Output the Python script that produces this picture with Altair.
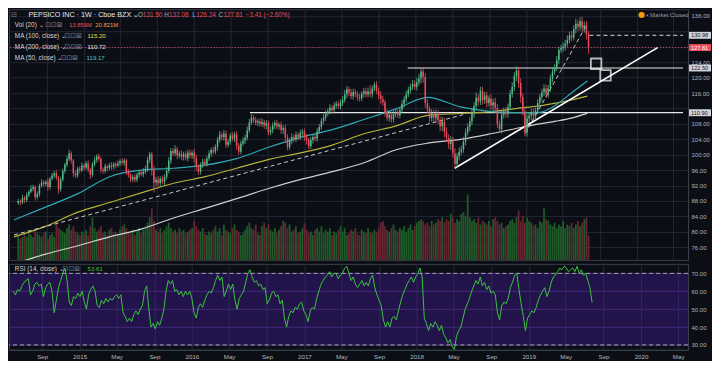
import altair as alt
import pandas as pd

# ----------------------------- data -----------------------------
last_week = "2019-07-26"
first_open = 87.5

closes = [
    88.0, 87.6, 88.8, 88.3, 89.5, 90.4, 91.2, 91.6, 89.0, 89.8,
    92.0, 92.8, 92.4, 93.0, 91.6, 93.8, 94.6, 95.2, 94.0, 91.0,
    93.5, 95.8, 97.4, 98.9, 100.3, 98.5, 95.2, 94.6, 96.4, 96.0,
    97.2, 96.7, 97.8, 96.2, 94.8, 97.5, 98.6, 99.6, 98.9, 96.2,
    95.8, 97.0, 96.5, 97.3, 96.8, 97.6, 97.2, 97.8, 98.3, 97.9, 98.5,
    95.6, 94.8, 93.6, 94.2, 93.5, 94.8, 95.4, 94.9, 95.6, 96.2,
    98.7, 100.2, 96.0, 92.8, 93.5, 92.6, 93.8, 93.0, 94.2, 95.8,
    98.5, 101.0, 100.4, 101.5, 99.8, 100.3, 99.4, 100.2, 99.1, 100.6,
    99.8, 100.5, 99.2, 96.8, 95.6, 97.4, 98.2, 97.6, 99.0, 100.3,
    101.2, 100.8, 102.0, 103.8, 105.2, 104.6, 105.5, 102.6, 103.4, 105.0,
    104.2, 105.3, 102.4, 100.8, 102.9, 103.6, 104.4, 106.3, 108.4, 109.6,
    109.0, 108.3, 108.7, 108.0, 108.5, 107.6, 108.2, 105.8, 106.4, 107.6,
    108.2, 107.3, 107.8, 106.4, 106.9, 104.5, 102.0, 103.6, 104.6, 104.0,
    105.2, 104.6, 105.6, 106.0, 104.5, 103.8, 102.2, 103.8, 104.6, 104.2,
    106.0, 107.2, 108.8, 109.6, 110.7, 111.3, 112.2, 111.6, 112.8, 113.2,
    112.6, 113.5, 114.2, 115.6, 117.0, 116.2, 115.2, 116.3, 115.7, 115.0, 114.6,
    115.8, 116.5, 115.6, 116.4, 115.8, 117.2, 118.2, 116.6, 115.4, 114.4,
    113.6, 111.0, 109.6, 110.4, 109.2, 110.6, 111.0, 110.2, 111.6, 113.2,
    114.4, 115.6, 116.8, 117.6, 118.4, 117.6, 118.8, 119.8, 121.6, 120.2,
    113.4, 111.8, 109.5, 110.8, 109.6, 110.6, 109.0, 107.4, 108.6, 106.0,
    104.4, 102.8, 103.6, 100.4, 97.6, 99.6, 100.8, 101.4, 103.4, 105.8,
    107.2, 108.6, 110.8, 112.6, 114.8, 113.8, 116.6, 114.2, 115.4, 113.4,
    114.6, 112.8, 113.6, 112.2, 108.0, 106.6, 110.4, 111.2, 110.6, 112.4,
    115.8, 117.6, 120.4, 121.8, 118.6, 115.0, 111.2, 105.8, 109.4, 110.2,
    111.0, 110.0, 111.4, 113.4, 115.0, 116.2, 117.2, 115.6, 117.2, 119.8,
    121.6, 122.6, 124.6, 127.2, 127.6, 128.0, 128.8, 129.8, 131.0, 130.4,
    132.6, 134.0, 133.2, 134.6, 132.8, 133.6, 131.22, 127.81,
]

up_wick = [
    .6, .4, .8, .5, .7, .5, .9, .6, .4, .7,
    .5, .8, .6, .4, .9, .5, .7, .6, .8, .5,
    .7, .6, .5, .8, 1.0, .6, .4, .7, .5, .6,
    .8, .5, .6, .7, .4, .6, .9, .5, .7, .6,
    .5, .7, .4, .6, .8, .5, .6, .7, .5, .8,
    .6, .5, .7, .4, .6, .8, .5, .6, .7, .9,
    1.0, .8, .6, .5, 1.2, .7, .9, .6, .8, .7,
    1.1, .9, .7, .8, 1.0, .6, .7, .9, .6, .8,
    .7, .8, .6, 1.0, .9, .7, .6, .8, .7, .6,
    .8, .6, .9, .7, .8, 1.0, .6, .9, .8, .7,
    .6, .9, .7, .8, .6, .7, .9, .8, 1.0, .9,
    1.1, .7, .8, .6, .7, .9, .6, .8, .7, .9,
    .8, .7, .9, .6, .8, .7, 1.0, .8, .7, .9,
    .7, .8, .6, .9, .7, .8, .9, .6, .8, .7,
    .6, .9, .8, .7, .9, .8, .7, .9, .6, .8,
    .7, .8, .9, 1.0, 1.2, .8, .7, .9, .8, .7,
    .8, .9, .7, .8, .9, 1.0, 1.6, .8, .7, .9,
    .8, 1.0, .9, .7, .8, .9, .7, .8, .9, .8,
    .7, .9, .8, 1.0, .9, .8, 1.0, .9, 1.1, 1.2,
    1.0, 1.2, .9, 1.1, .8, 1.0, .9, 1.1, 1.0, .9,
    1.2, 1.0, 1.1, .9, 1.2, 1.0, 1.3, .9, 1.1, 1.0,
    1.2, 1.0, .9, 1.1, 1.3, 1.0, 1.4, .9, 1.0, 1.1,
    .9, 1.0, .8, 1.1, .9, 1.2, 1.0, .8, .9, 1.0,
    1.1, .9, 1.0, 1.2, 1.0, 1.1, .9, 1.2, 1.0, .9,
    1.0, .8, .9, 1.1, .9, 1.0, .8, .9, 1.1, 1.0,
    .9, 1.0, 1.1, .9, 1.0, .8, .9, 1.1, 1.0, 1.2,
    .9, 1.1, 1.0, 1.3, .9, 1.0, 1.2, .9, 1.1, .86,
]

dn_wick = [
    .5, .7, .4, .8, .6, .5, .4, .7, .9, .6,
    .7, .5, .8, .6, 1.0, .6, .5, .7, .6, 1.1,
    .6, .5, .7, .6, .5, .8, 1.0, .7, .6, .8,
    .5, .7, .6, .8, 1.1, .6, .5, .7, .6, .9,
    .7, .6, .8, .5, .7, .6, .8, .5, .7, .6,
    .8, .9, .7, .8, .6, .7, .6, .8, .5, .7,
    .6, .7, .9, 1.4, 2.6, 1.0, .8, .9, .7, .8,
    .7, .6, .9, .7, .8, 1.0, .7, .8, .9, .6,
    .8, .7, .9, 1.2, 1.1, .8, .7, .9, .6, .7,
    .6, .8, .7, .6, .9, .7, .8, 1.0, .8, .7,
    .8, .7, .9, 1.1, .8, .7, .6, .8, .7, .6,
    .7, .8, .6, .9, .7, .8, .9, 1.0, .8, .7,
    .8, .9, .7, .8, 1.0, 1.1, 1.3, .8, .7, .9,
    .8, .7, .9, .8, 1.0, .9, 1.2, .8, .7, .9,
    .7, .8, .6, .7, .8, .9, .7, .8, .9, .7,
    .8, .7, .9, .8, .7, .9, 1.0, .8, .9, .8,
    .9, .8, .7, .9, .8, .7, .9, 1.0, .8, .9,
    1.0, 1.2, .9, 1.1, .8, 1.0, .9, .8, .9, .7,
    .8, .7, .9, .8, .7, .9, .8, .7, .9, .8,
    1.3, 1.5, 1.2, 1.0, 1.1, .9, 1.2, 1.0, 1.1, 1.3,
    1.2, 1.4, 1.1, 1.3, 1.6, 1.2, 1.0, .9, 1.1, .8,
    .9, 1.0, .8, 1.1, .9, 1.2, 1.0, 1.1, .9, 1.2,
    1.0, 1.1, .9, 1.2, 1.4, 1.3, 1.0, .9, 1.1, 1.0,
    .9, 1.0, .8, 1.0, 1.1, 1.3, 1.2, 1.5, 1.1, 1.0,
    1.1, 1.0, 1.2, .9, 1.0, .8, .9, 1.1, 1.0, .9,
    .8, .9, 1.0, .8, .9, 1.1, .8, .9, 1.0, .8,
    .9, 1.0, .8, 1.1, 1.2, 1.0, .9, 1.1, 1.3, 1.57,
]

volume_m = [
    14, 12, 13, 15, 13, 16, 14, 13, 17, 15,
    14, 13, 15, 16, 12, 14, 15, 13, 22, 18,
    17, 16, 15, 18, 20, 17, 19, 16, 15, 14,
    16, 15, 17, 14, 19, 24, 18, 16, 17, 19,
    15, 16, 14, 17, 18, 15, 16, 14, 17, 19,
    20, 18, 16, 15, 17, 14, 16, 18, 15, 17,
    18, 21, 24, 29, 22, 17, 16, 18, 15, 17,
    19, 21, 18, 16, 17, 15, 18, 16, 17, 15,
    16, 17, 18, 22, 19, 17, 16, 18, 15, 14,
    16, 15, 17, 19, 16, 18, 14, 20, 17, 16,
    15, 18, 20, 17, 16, 14, 15, 17, 19, 21,
    18, 17, 20, 15, 14, 19, 21, 18, 20, 17,
    16, 18, 15, 17, 19, 22, 21, 18, 20, 16,
    17, 19, 15, 16, 18, 21, 17, 15, 16, 14,
    17, 18, 16, 19, 15, 17, 16, 18, 14, 16,
    15, 17, 19, 16, 18, 14, 15, 17, 16, 18,
    15, 14, 17, 16, 15, 18, 16, 15, 17, 16,
    18, 21, 22, 19, 17, 16, 18, 20, 17, 16,
    18, 17, 19, 16, 18, 20, 17, 19, 21, 22,
    23, 22, 20, 21, 19, 22, 20, 21, 23, 22,
    24, 21, 23, 22, 26, 24, 21, 23, 22, 26,
    27, 25, 37, 24, 22, 23, 21, 24, 20, 22,
    21, 20, 22, 19, 23, 24, 22, 20, 21, 18,
    19, 20, 22, 23, 21, 24, 28, 22, 25, 21,
    24, 22, 21, 19, 20, 18, 22, 21, 29, 23,
    22, 20, 19, 21, 18, 20, 19, 22, 18, 20,
    19, 21, 18, 20, 22, 19, 21, 23, 24, 13.86,
]

rsi_values = [
    60, 58, 61, 60, 63, 65, 66, 67, 58, 60,
    64, 65, 63, 64, 57, 62, 64, 65, 60, 48,
    55, 62, 66, 70, 73, 66, 54, 52, 57, 56,
    59, 57, 60, 54, 50, 58, 61, 63, 60, 52,
    51, 55, 53, 56, 54, 56, 55, 57, 58, 56,
    58, 48, 46, 43, 45, 43, 47, 49, 47, 50,
    52, 60, 63, 50, 40, 42, 39, 43, 41, 45,
    50, 60, 66, 64, 66, 60, 61, 58, 60, 57,
    60, 58, 60, 56, 48, 45, 51, 53, 51, 55,
    58, 60, 59, 62, 66, 69, 66, 68, 57, 60,
    64, 61, 64, 55, 50, 56, 58, 60, 65, 70,
    72, 68, 65, 66, 63, 64, 61, 62, 53, 55,
    59, 60, 57, 58, 53, 55, 45, 40, 46, 49,
    48, 51, 50, 53, 54, 49, 47, 43, 49, 51,
    50, 56, 60, 64, 66, 68, 69, 71, 68, 70,
    70, 67, 69, 70, 73, 74, 70, 66, 68, 64,
    62, 64, 66, 63, 65, 63, 67, 69, 62, 58,
    55, 52, 44, 40, 43, 40, 45, 46, 44, 49,
    54, 58, 61, 64, 66, 68, 65, 68, 70, 73,
    68, 45, 42, 38, 42, 40, 43, 41, 38, 41,
    36, 34, 31, 33, 29, 27.5, 35, 38, 40, 45,
    50, 53, 56, 60, 63, 66, 64, 68, 63, 65,
    61, 63, 59, 60, 58, 48, 44, 52, 54, 53,
    56, 62, 65, 69, 70, 61, 53, 46, 38, 45,
    47, 49, 48, 51, 55, 58, 60, 62, 57, 60,
    65, 68, 69, 71, 73, 72, 74, 73, 71, 72,
    73, 71, 74, 70, 72, 69, 70, 66, 62, 53.61,
]

ma_dates = ["2014-05-16", "2014-08-28", "2014-12-13", "2015-03-28", "2015-07-10",
            "2015-10-25", "2016-02-06", "2016-05-20", "2016-09-05", "2016-12-18",
            "2017-04-01", "2017-07-17", "2017-10-29", "2018-02-10", "2018-05-29",
            "2018-09-10", "2018-12-23", "2019-02-15", "2019-04-09", "2019-05-30",
            "2019-07-22"]
ma50 = [83.1, 86.4, 89.9, 94.3, 96.0, 96.5, 97.3, 99.0, 102.0, 104.5, 106.5,
        109.2, 111.9, 114.9, 112.4, 111.2, 110.9, 111.0, 112.9, 116.0, 119.17]
ma100 = [78.7, 81.4, 85.1, 87.6, 90.1, 92.6, 94.3, 96.5, 98.8, 100.5, 102.5,
         105.5, 107.5, 110.2, 110.7, 111.2, 112.2, 112.7, 113.4, 114.2, 115.20]
ma200 = [71.7, 74.2, 76.4, 78.7, 80.7, 83.6, 86.1, 88.6, 91.3, 93.6, 95.6,
         98.0, 101.3, 103.0, 104.0, 105.5, 107.2, 108.0, 108.7, 109.5, 110.72]

level_prices = [122.50, 110.90]
level_starts = ["2017-12-06", "2016-07-03"]
prev_level = 130.98
prev_level_start = "2019-07-29"
last_price = 127.81

solid_trend = {"d1": "2018-05-10", "d2": "2020-03-10", "p1": 96.5, "p2": 127.8}
dashed_trends = {"d1": ["2014-05-16", "2018-12-29"], "d2": ["2018-06-07", "2019-07-22"],
                 "p1": [79.2, 105.5], "p2": [110.4, 134.0]}
marker_dates = ["2019-08-20", "2019-09-20"]
marker_prices = [123.6, 120.6]

price_ticks = list(range(76, 137, 4))
hidden_price_ticks = [132, 128, 112]
rsi_ticks = [30, 40, 50, 60, 70]

# ----------------------------- style -----------------------------
BG = "#0c0e15"
GRID = "#242733"
BORDER = "#3a3e4a"
AXC = "#b2b5be"
UP, DOWN = "#53b987", "#eb4d5c"
VUP, VDOWN = "#1f5a28", "#672533"
C50, C100, C200 = "#2fa7b3", "#b4b23a", "#cfcfcf"
RSI_C = "#3bc43f"
FONT = "Liberation Sans"
W, H1, H2 = 680, 251, 86
SX, SY, SY2 = W / 700, H1 / 262, H2 / 90


def ts(s):
    return int(pd.Timestamp(s, tz="UTC").value // 10**6)


def iso(s):
    return pd.Timestamp(s).strftime("%Y-%m-%dT00:00:00Z")


n = min(len(closes), len(up_wick), len(dn_wick), len(volume_m), len(rsi_values))
closes = closes[:n]
dates = pd.date_range(end=last_week, periods=n, freq="7D")
opens = [first_open] + closes[:-1]
df = pd.DataFrame({
    "date": [d.strftime("%Y-%m-%dT00:00:00Z") for d in dates],
    "open": opens,
    "close": closes,
    "high": [max(o, c) + u for o, c, u in zip(opens, closes, up_wick[:n])],
    "low": [min(o, c) - d for o, c, d in zip(opens, closes, dn_wick[:n])],
    "vol": volume_m[:n],
    "rsi": rsi_values[:n],
})

xdom = [ts("2014-05-16"), ts("2020-06-02")]
xvals = [ts(f"{y}-{m:02d}-01") for y in range(2014, 2021) for m in (1, 5, 9)
         if ts("2014-06-01") <= ts(f"{y}-{m:02d}-01") <= ts("2020-05-31")]
xs = alt.Scale(type="utc", domain=xdom)
ax_price_x = alt.Axis(values=xvals, grid=True, gridColor=GRID, labels=False, ticks=False,
                      domain=False, title=None)
ax_rsi_x = alt.Axis(values=xvals, grid=True, gridColor=GRID, ticks=False, domain=True,
                    domainColor=BORDER, title=None, labelFont=FONT, labelFontSize=6.2,
                    labelColor=AXC, labelPadding=4,
                    labelExpr="utcFormat(datum.value, '%m') == '01' ? utcFormat(datum.value, '%Y') : utcFormat(datum.value, '%b')")

hidden_expr = " || ".join(f"datum.value == {v}" for v in hidden_price_ticks)
ys = alt.Scale(domain=[72.72, 137.74], nice=False, zero=False)
ax_price_y = alt.Axis(orient="right", values=price_ticks, grid=True, gridColor=GRID,
                      ticks=False, domain=True, domainColor=BORDER, labelFont=FONT,
                      labelFontSize=6.0, labelColor=AXC, labelPadding=3, title=None,
                      labelExpr=f"({hidden_expr}) ? '' : format(datum.value, '.2f')")
rs = alt.Scale(domain=[27.3, 75.3], nice=False, zero=False)
ax_rsi_y = alt.Axis(orient="right", values=rsi_ticks, format=".2f", grid=True, gridColor="#3b3060",
                    ticks=False, domain=True, domainColor=BORDER, labelFont=FONT,
                    labelFontSize=6.0, labelColor=AXC, labelPadding=3, title=None)


def XP(field="date"):
    return alt.X(f"{field}:T", scale=xs, axis=ax_price_x)


def XR(field="date"):
    return alt.X(f"{field}:T", scale=xs, axis=ax_rsi_x)


def YP(field):
    return alt.Y(f"{field}:Q", scale=ys, axis=ax_price_y)


def YR(field):
    return alt.Y(f"{field}:Q", scale=rs, axis=ax_rsi_y)


up_cond = "datum.close >= datum.open"


def txt(text, x, y, color, size=6.4, weight="normal", font=FONT, align="left"):
    return alt.Chart(pd.DataFrame({"t": [text]})).mark_text(
        align=align, baseline="middle", fontSize=size, fontWeight=weight, color=color, font=font
    ).encode(text="t:N", x=alt.value(x), y=alt.value(y))


# ----------------------------- price pane -----------------------------
vol = alt.Chart(df).mark_bar(size=1.8).encode(
    x=XP(),
    y=alt.Y("vol:Q", scale=alt.Scale(domain=[0, 141.6], nice=False), axis=None),
    color=alt.condition(up_cond, alt.value(VUP), alt.value(VDOWN)),
)

lv_df = pd.DataFrame({"start": [iso(s) for s in level_starts], "end": iso("2020-06-02"), "p": level_prices})
levels = alt.Chart(lv_df).mark_rule(color="#e6e6e6", strokeWidth=1.2).encode(
    x=XP("start"), x2="end:T", y=YP("p"))
prev_df = pd.DataFrame({"start": [iso(prev_level_start)], "end": [iso("2020-06-02")], "p": [prev_level]})
prev_line = alt.Chart(prev_df).mark_rule(color="#d8d8d8", strokeWidth=1, strokeDash=[4, 3]).encode(
    x=XP("start"), x2="end:T", y=YP("p"))
last_line = alt.Chart(pd.DataFrame({"p": [last_price]})).mark_rule(
    color=DOWN, strokeWidth=1, strokeDash=[1, 2], opacity=0.9).encode(y=YP("p"))

ma_df = pd.DataFrame({"date": [iso(d) for d in ma_dates], "ma50": ma50, "ma100": ma100, "ma200": ma200})
ma_layers = [
    alt.Chart(ma_df).mark_line(color=c, strokeWidth=1.2, interpolate="monotone", clip=True).encode(
        x=XP(), y=YP(f))
    for f, c in (("ma200", C200), ("ma100", C100), ("ma50", C50))
]

dt_df = pd.DataFrame({"d1": [iso(d) for d in dashed_trends["d1"]], "d2": [iso(d) for d in dashed_trends["d2"]],
                      "p1": dashed_trends["p1"], "p2": dashed_trends["p2"]})
dashed = alt.Chart(dt_df).mark_rule(color="#c8c8c8", strokeWidth=1, strokeDash=[4, 3], clip=True).encode(
    x=XP("d1"), x2="d2:T", y=YP("p1"), y2="p2:Q")
st_df = pd.DataFrame({"d1": [iso(solid_trend["d1"])], "d2": [iso(solid_trend["d2"])],
                      "p1": [solid_trend["p1"]], "p2": [solid_trend["p2"]]})
solid = alt.Chart(st_df).mark_rule(color="#ffffff", strokeWidth=1.6).encode(
    x=XP("d1"), x2="d2:T", y=YP("p1"), y2="p2:Q")

wicks = alt.Chart(df).mark_rule(strokeWidth=0.8).encode(
    x=XP(), y=YP("low"), y2="high:Q",
    color=alt.condition(up_cond, alt.value(UP), alt.value(DOWN)))
bodies = alt.Chart(df).mark_bar(size=1.5).encode(
    x=XP(), y=YP("open"), y2="close:Q",
    color=alt.condition(up_cond, alt.value(UP), alt.value(DOWN)))

mk_df = pd.DataFrame({"date": [iso(d) for d in marker_dates], "p": marker_prices})
markers = alt.Chart(mk_df).mark_point(shape="square", filled=False, size=110, strokeWidth=1.8,
                                      color="#ffffff").encode(x=XP(), y=YP("p"))

box_prices = [prev_level, last_price, 122.50, 110.90]
box_df = pd.DataFrame({
    "p": box_prices,
    "lo": [p - 0.9 for p in box_prices],
    "hi": [p + 0.9 for p in box_prices],
    "label": [f"{p:.2f}" for p in box_prices],
    "bg": ["#d1d4dc", DOWN, "#d1d4dc", "#d1d4dc"],
    "fg": ["#131722", "#ffffff", "#131722", "#131722"],
})
box_rect = alt.Chart(box_df).mark_rect().encode(
    x=alt.value(W + 1), x2=alt.value(W + 23), y=YP("lo"), y2="hi:Q",
    color=alt.Color("bg:N", scale=None))
box_text = alt.Chart(box_df).mark_text(align="left", baseline="middle", fontSize=5.6, font=FONT).encode(
    x=alt.value(W + 3), y=YP("p"), text="label:N", color=alt.Color("fg:N", scale=None))

ICON = "#787b86"
LEG = "#d1d4dc"
texts = [
    txt("⊟", 2 * SX, 6 * SY, ICON, 7, font="DejaVu Sans"),
    txt("PEPSICO INC · 1W · Cboe BZX ⌄", 20 * SX, 6 * SY, "#e8e8e8", 7.2),
    txt("O", 133 * SX, 6 * SY, AXC), txt("131.50", 138 * SX, 6 * SY, DOWN),
    txt("H", 160 * SX, 6 * SY, AXC), txt("132.08", 165 * SX, 6 * SY, DOWN),
    txt("L", 189 * SX, 6 * SY, AXC), txt("126.24", 193 * SX, 6 * SY, DOWN),
    txt("C", 216 * SX, 6 * SY, AXC), txt("127.81", 221 * SX, 6 * SY, DOWN),
    txt("−3.41 (−2.60%)", 244 * SX, 6 * SY, DOWN),
    txt("Vol (20) ⌄", 6 * SX, 16 * SY, LEG), txt("⊡⊡⊠", 37 * SX, 16 * SY, ICON, 7, font="DejaVu Sans"),
    txt("13.859M", 62 * SX, 16 * SY, DOWN, 5.9), txt("20.821M", 89 * SX, 16 * SY, "#f0a050", 5.9),
    txt("MA (100, close) ⌄", 6 * SX, 28 * SY, LEG), txt("⊡⊡⊠", 57 * SX, 28 * SY, ICON, 7, font="DejaVu Sans"),
    txt("115.20", 81 * SX, 28 * SY, "#e2e04a", 6.1),
    txt("MA (200, close) ⌄", 6 * SX, 39 * SY, LEG), txt("⊡⊡⊠", 57 * SX, 39 * SY, ICON, 7, font="DejaVu Sans"),
    txt("110.72", 81 * SX, 39 * SY, "#e6e6e6", 6.1),
    txt("MA (50, close) ⌄", 6 * SX, 51 * SY, LEG), txt("⊡⊡⊠", 53 * SX, 51 * SY, ICON, 7, font="DejaVu Sans"),
    txt("119.17", 80 * SX, 51 * SY, "#3cc8d0", 6.1),
    txt("●", 652 * SX, 6 * SY, "#f39c12", 8, font="DejaVu Sans", align="center"),
    txt("• Market Closed", 657 * SX, 6 * SY, "#9598a1", 6.0),
]

price_layers = alt.layer(levels, prev_line, last_line, *ma_layers, dashed, solid,
                         wicks, bodies, markers, box_rect, box_text, *texts)
price_pane = alt.layer(vol, price_layers).resolve_scale(y="independent").properties(width=W, height=H1)

# ----------------------------- RSI pane -----------------------------
band = alt.Chart(pd.DataFrame({"lo": [30], "hi": [70]})).mark_rect(color="#4b1fa8", opacity=0.36).encode(
    y=YR("lo"), y2="hi:Q")
rsi_bounds = alt.Chart(pd.DataFrame({"v": [30, 70]})).mark_rule(
    color="#a7a3b8", strokeWidth=1, strokeDash=[4, 3]).encode(y=YR("v"))
rsi_line = alt.Chart(df).mark_line(color=RSI_C, strokeWidth=1, clip=True).encode(x=XR(), y=YR("rsi"))
rsi_texts = [
    txt("RSI (14, close) ⌄", 6 * SX, 5 * SY2, LEG),
    txt("⊡⊡⊠", 55 * SX, 5 * SY2, ICON, 7, font="DejaVu Sans"),
    txt("53.61", 81 * SX, 5 * SY2, RSI_C, 6.1),
]
rsi_pane = alt.layer(band, rsi_bounds, rsi_line, *rsi_texts).properties(width=W, height=H2)

chart = alt.vconcat(price_pane, rsi_pane, spacing=2).properties(
    background=BG, padding=0
).configure_view(stroke=BORDER, strokeWidth=1)

chart.save("out.html", embed_options={"renderer": "svg", "actions": False})
